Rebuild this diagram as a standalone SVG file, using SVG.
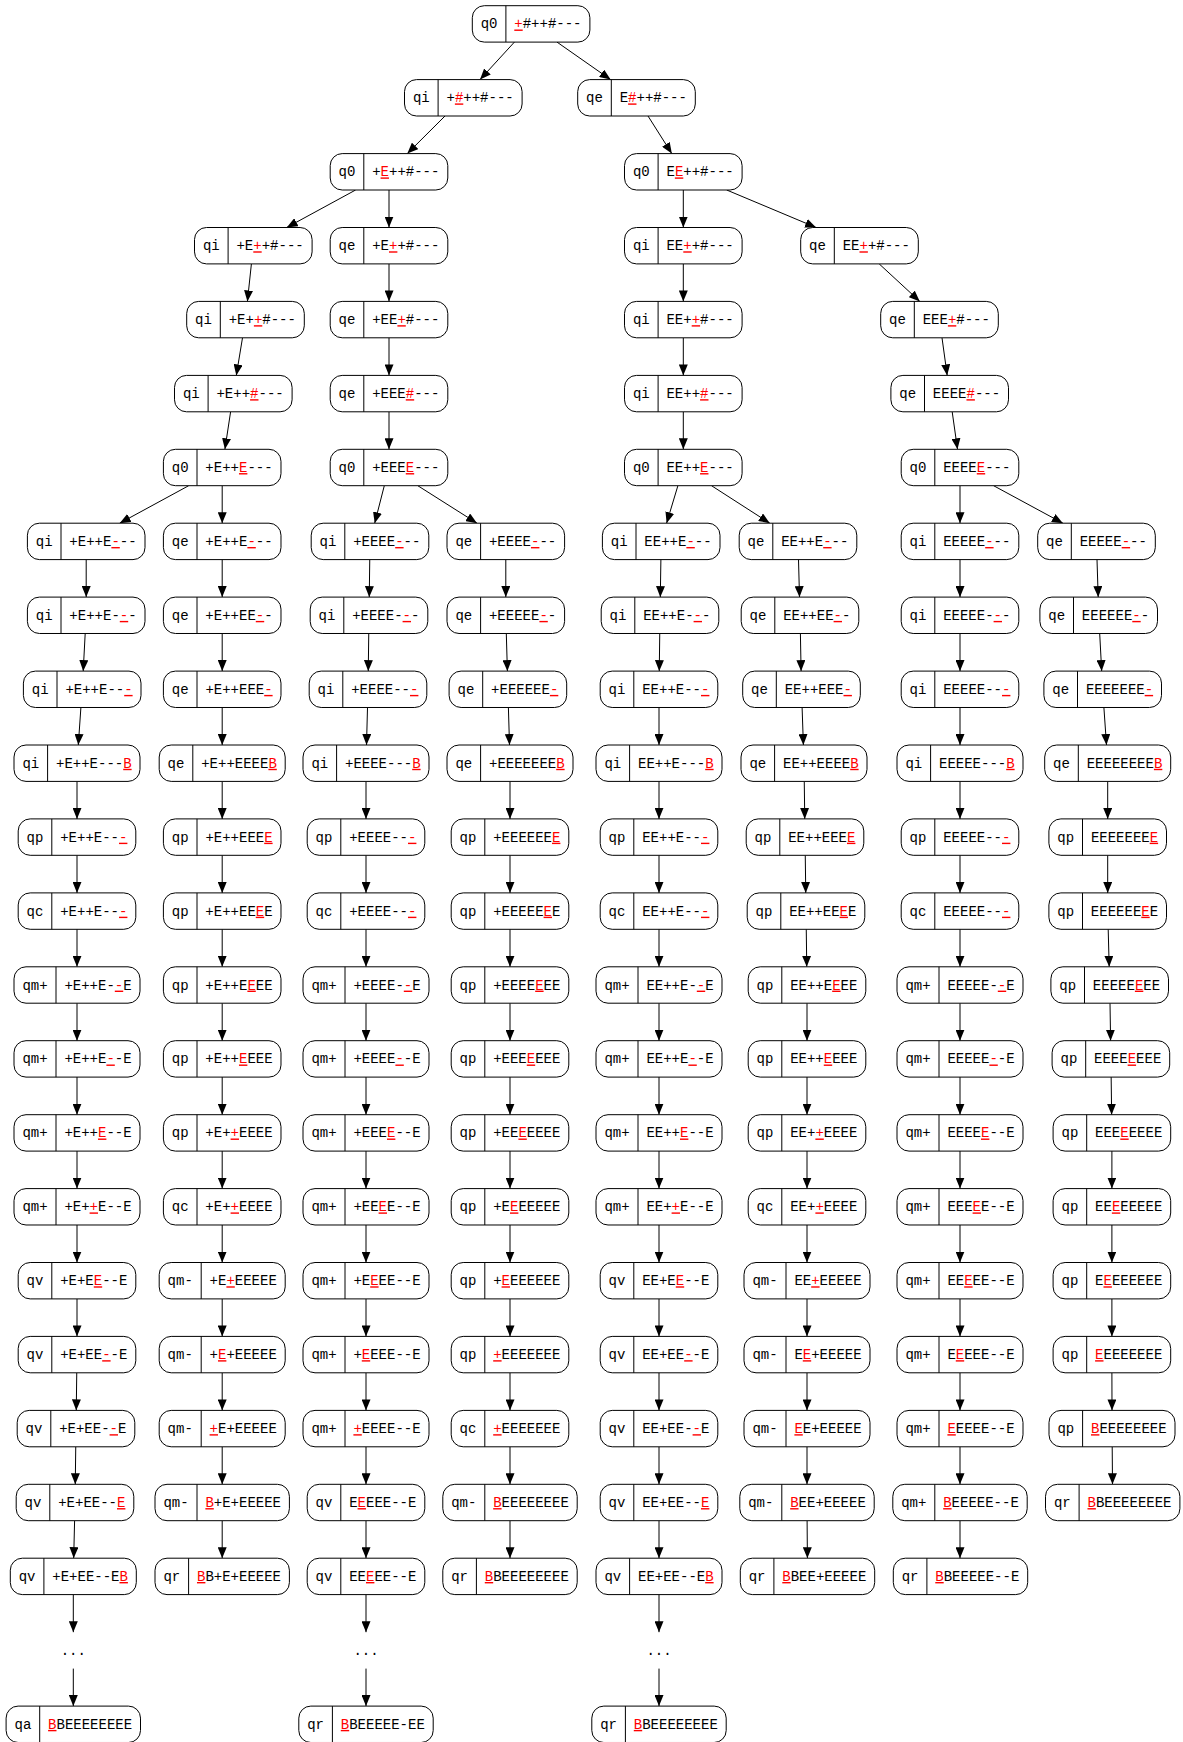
<svg xmlns="http://www.w3.org/2000/svg" width="1183" height="1742" viewBox="0 0 1183 1742">
<style>
.f{fill:#fff;stroke:#000;stroke-width:1}
text{font-family:"Liberation Mono","DejaVu Sans Mono",monospace;font-size:14px;fill:#000;text-anchor:middle}
.h{fill:#f00;text-decoration:underline}
.e{fill:none;stroke:#000;stroke-width:1;marker-end:url(#ah)}
</style>
<defs>
<marker id="ah" viewBox="0 0 11 9" refX="11" refY="4.5" markerWidth="11" markerHeight="9" markerUnits="userSpaceOnUse" orient="auto"><path d="M0,0L11,4.5L0,9z" fill="#000"/></marker>
<g id="fA"><rect class="f" width="117.6" height="36.4" rx="12"/><line class="f" x1="33.6" y1="0" x2="33.6" y2="36.4"/></g>
<g id="fB"><rect class="f" width="126" height="36.4" rx="12"/><line class="f" x1="33.6" y1="0" x2="33.6" y2="36.4"/></g>
<g id="fC"><rect class="f" width="134.4" height="36.4" rx="12"/><line class="f" x1="33.6" y1="0" x2="33.6" y2="36.4"/></g>
<g id="fD"><rect class="f" width="126" height="36.4" rx="12"/><line class="f" x1="42" y1="0" x2="42" y2="36.4"/></g>
<g id="fE"><rect class="f" width="134.4" height="36.4" rx="12"/><line class="f" x1="42" y1="0" x2="42" y2="36.4"/></g>
</defs>
<rect width="1183" height="1742" fill="#fff"/>
<g id="edges">
<path class="e" d="M514.4,42.1L480,79.6"/>
<path class="e" d="M557,42.1L610.6,79.6"/>
<path class="e" d="M445,116L407.3,153.6"/>
<path class="e" d="M648,116L671.8,153.6"/>
<path class="e" d="M355.6,190L286.7,227.5"/>
<path class="e" d="M389,190L389,227.5"/>
<path class="e" d="M683.3,190L683.3,227.5"/>
<path class="e" d="M726.7,190L816.1,227.5"/>
<path class="e" d="M251.4,263.9L247.4,301.4"/>
<path class="e" d="M389,263.9L389,301.4"/>
<path class="e" d="M683.3,263.9L683.3,301.4"/>
<path class="e" d="M879.2,263.9L919.8,301.4"/>
<path class="e" d="M242.5,337.8L236.3,375.4"/>
<path class="e" d="M389,337.8L389,375.4"/>
<path class="e" d="M683.3,337.8L683.3,375.4"/>
<path class="e" d="M942,337.8L947.2,375.4"/>
<path class="e" d="M230.6,411.8L224.9,449.3"/>
<path class="e" d="M389,411.8L389,449.3"/>
<path class="e" d="M683.3,411.8L683.3,449.3"/>
<path class="e" d="M952.2,411.8L957.5,449.3"/>
<path class="e" d="M188.7,485.7L119.7,523.2"/>
<path class="e" d="M222.2,485.7L222.2,523.2"/>
<path class="e" d="M384.3,485.7L374.7,523.2"/>
<path class="e" d="M417.8,485.7L477,523.2"/>
<path class="e" d="M677.9,485.7L666.6,523.2"/>
<path class="e" d="M711.5,485.7L769.8,523.2"/>
<path class="e" d="M960,485.7L960,523.2"/>
<path class="e" d="M993.6,485.7L1062.9,523.2"/>
<!-- col1 -->
<path class="e" d="M86.2,559.6L86.2,597.1"/>
<path class="e" d="M85.2,633.5L83.2,671.1"/>
<path class="e" d="M80.9,707.5L78.3,745"/>
<path class="e" d="M77,781.4L77,818.9"/>
<path class="e" d="M77,855.3L77,892.9"/>
<path class="e" d="M77,929.3L77,966.8"/>
<path class="e" d="M77,1003.2L77,1040.7"/>
<path class="e" d="M77,1077.1L77,1114.7"/>
<path class="e" d="M77,1151.1L77,1188.6"/>
<path class="e" d="M77,1225L77,1262.5"/>
<path class="e" d="M77,1298.9L77,1336.4"/>
<path class="e" d="M76.75,1372.8L76.25,1410.4"/>
<path class="e" d="M75.75,1446.8L75.25,1484.3"/>
<path class="e" d="M74.6,1520.7L73.7,1558.2"/>
<path class="e" d="M73.3,1594.6L73.3,1632.2"/>
<path class="e" d="M73.3,1668.6L73.3,1706.1"/>
<!-- col2 -->
<path class="e" d="M222.2,559.6L222.2,597.1"/>
<path class="e" d="M222.2,633.5L222.2,671.1"/>
<path class="e" d="M222.2,707.5L222.2,745"/>
<path class="e" d="M222.2,781.4L222.2,818.9"/>
<path class="e" d="M222.2,855.3L222.2,892.9"/>
<path class="e" d="M222.2,929.3L222.2,966.8"/>
<path class="e" d="M222.2,1003.2L222.2,1040.7"/>
<path class="e" d="M222.2,1077.1L222.2,1114.7"/>
<path class="e" d="M222.2,1151.1L222.2,1188.6"/>
<path class="e" d="M222.2,1225L222.2,1262.5"/>
<path class="e" d="M222.2,1298.9L222.2,1336.4"/>
<path class="e" d="M222.2,1372.8L222.2,1410.4"/>
<path class="e" d="M222.2,1446.8L222.2,1484.3"/>
<path class="e" d="M222.2,1520.7L222.2,1558.2"/>
<!-- col3 -->
<path class="e" d="M369.75,559.6L369.25,597.1"/>
<path class="e" d="M368.75,633.5L368.25,671.1"/>
<path class="e" d="M367.5,707.5L366.5,745"/>
<path class="e" d="M366,781.4L366,818.9"/>
<path class="e" d="M366,855.3L366,892.9"/>
<path class="e" d="M366,929.3L366,966.8"/>
<path class="e" d="M366,1003.2L366,1040.7"/>
<path class="e" d="M366,1077.1L366,1114.7"/>
<path class="e" d="M366,1151.1L366,1188.6"/>
<path class="e" d="M366,1225L366,1262.5"/>
<path class="e" d="M366,1298.9L366,1336.4"/>
<path class="e" d="M366,1372.8L366,1410.4"/>
<path class="e" d="M366,1446.8L366,1484.3"/>
<path class="e" d="M366,1520.7L366,1558.2"/>
<path class="e" d="M366,1594.6L366,1632.2"/>
<path class="e" d="M366,1668.6L366,1706.1"/>
<!-- col4 -->
<path class="e" d="M505.8,559.6L505.8,597.1"/>
<path class="e" d="M506.3,633.5L507.4,671.1"/>
<path class="e" d="M508.4,707.5L509.5,745"/>
<path class="e" d="M510,781.4L510,818.9"/>
<path class="e" d="M510,855.3L510,892.9"/>
<path class="e" d="M510,929.3L510,966.8"/>
<path class="e" d="M510,1003.2L510,1040.7"/>
<path class="e" d="M510,1077.1L510,1114.7"/>
<path class="e" d="M510,1151.1L510,1188.6"/>
<path class="e" d="M510,1225L510,1262.5"/>
<path class="e" d="M510,1298.9L510,1336.4"/>
<path class="e" d="M510,1372.8L510,1410.4"/>
<path class="e" d="M510,1446.8L510,1484.3"/>
<path class="e" d="M510,1520.7L510,1558.2"/>
<!-- col5 -->
<path class="e" d="M660.9,559.6L660.3,597.1"/>
<path class="e" d="M659.75,633.5L659.25,671.1"/>
<path class="e" d="M659,707.5L659,745"/>
<path class="e" d="M659,781.4L659,818.9"/>
<path class="e" d="M659,855.3L659,892.9"/>
<path class="e" d="M659,929.3L659,966.8"/>
<path class="e" d="M659,1003.2L659,1040.7"/>
<path class="e" d="M659,1077.1L659,1114.7"/>
<path class="e" d="M659,1151.1L659,1188.6"/>
<path class="e" d="M659,1225L659,1262.5"/>
<path class="e" d="M659,1298.9L659,1336.4"/>
<path class="e" d="M659,1372.8L659,1410.4"/>
<path class="e" d="M659,1446.8L659,1484.3"/>
<path class="e" d="M659,1520.7L659,1558.2"/>
<path class="e" d="M659,1594.6L659,1632.2"/>
<path class="e" d="M659,1668.6L659,1706.1"/>
<!-- col6 -->
<path class="e" d="M798.5,559.6L799.5,597.1"/>
<path class="e" d="M800.4,633.5L801.1,671.1"/>
<path class="e" d="M802.1,707.5L803.4,745"/>
<path class="e" d="M804.25,781.4L804.75,818.9"/>
<path class="e" d="M805.25,855.3L805.75,892.9"/>
<path class="e" d="M806.25,929.3L806.75,966.8"/>
<path class="e" d="M807,1003.2L807,1040.7"/>
<path class="e" d="M807,1077.1L807,1114.7"/>
<path class="e" d="M807,1151.1L807,1188.6"/>
<path class="e" d="M807,1225L807,1262.5"/>
<path class="e" d="M807,1298.9L807,1336.4"/>
<path class="e" d="M807,1372.8L807,1410.4"/>
<path class="e" d="M807,1446.8L807,1484.3"/>
<path class="e" d="M807.1,1520.7L807.4,1558.2"/>
<!-- col7 -->
<path class="e" d="M960,559.6L960,597.1"/>
<path class="e" d="M960,633.5L960,671.1"/>
<path class="e" d="M960,707.5L960,745"/>
<path class="e" d="M960,781.4L960,818.9"/>
<path class="e" d="M960,855.3L960,892.9"/>
<path class="e" d="M960,929.3L960,966.8"/>
<path class="e" d="M960,1003.2L960,1040.7"/>
<path class="e" d="M960,1077.1L960,1114.7"/>
<path class="e" d="M960,1151.1L960,1188.6"/>
<path class="e" d="M960,1225L960,1262.5"/>
<path class="e" d="M960,1298.9L960,1336.4"/>
<path class="e" d="M960,1372.8L960,1410.4"/>
<path class="e" d="M960,1446.8L960,1484.3"/>
<path class="e" d="M960,1520.7L960,1558.2"/>
<!-- col8 -->
<path class="e" d="M1097,559.6L1098.2,597.1"/>
<path class="e" d="M1099.7,633.5L1101.7,671.1"/>
<path class="e" d="M1103.9,707.5L1106.5,745"/>
<path class="e" d="M1107.7,781.4L1107.7,818.9"/>
<path class="e" d="M1107.7,855.3L1107.7,892.9"/>
<path class="e" d="M1108.2,929.3L1109.2,966.8"/>
<path class="e" d="M1110,1003.2L1110.6,1040.7"/>
<path class="e" d="M1111.15,1077.1L1111.65,1114.7"/>
<path class="e" d="M1111.9,1151.1L1111.9,1188.6"/>
<path class="e" d="M1111.9,1225L1111.9,1262.5"/>
<path class="e" d="M1111.9,1298.9L1111.9,1336.4"/>
<path class="e" d="M1111.9,1372.8L1112,1410.4"/>
<path class="e" d="M1112.2,1446.8L1112.5,1484.3"/>
</g>
<g id="nodes">
<!-- trunk -->
<g id="n0" transform="translate(472.3,5.7)"><use href="#fA"/><text x="16.8" y="22.8">q0</text><text x="75.6" y="22.8"><tspan class="h">+</tspan>#++#---</text></g>
<g id="a1" transform="translate(404.5,79.6)"><use href="#fA"/><text x="16.8" y="22.8">qi</text><text x="75.6" y="22.8">+<tspan class="h">#</tspan>++#---</text></g>
<g id="b1" transform="translate(577.7,79.6)"><use href="#fA"/><text x="16.8" y="22.8">qe</text><text x="75.6" y="22.8">E<tspan class="h">#</tspan>++#---</text></g>
<g id="a2" transform="translate(330.2,153.6)"><use href="#fA"/><text x="16.8" y="22.8">q0</text><text x="75.6" y="22.8">+<tspan class="h">E</tspan>++#---</text></g>
<g id="b2" transform="translate(624.5,153.6)"><use href="#fA"/><text x="16.8" y="22.8">q0</text><text x="75.6" y="22.8">E<tspan class="h">E</tspan>++#---</text></g>
<g id="c3" transform="translate(194.5,227.5)"><use href="#fA"/><text x="16.8" y="22.8">qi</text><text x="75.6" y="22.8">+E<tspan class="h">+</tspan>+#---</text></g>
<g id="d3" transform="translate(330.2,227.5)"><use href="#fA"/><text x="16.8" y="22.8">qe</text><text x="75.6" y="22.8">+E<tspan class="h">+</tspan>+#---</text></g>
<g id="e3" transform="translate(624.5,227.5)"><use href="#fA"/><text x="16.8" y="22.8">qi</text><text x="75.6" y="22.8">EE<tspan class="h">+</tspan>+#---</text></g>
<g id="f3" transform="translate(800.7,227.5)"><use href="#fA"/><text x="16.8" y="22.8">qe</text><text x="75.6" y="22.8">EE<tspan class="h">+</tspan>+#---</text></g>
<g id="c4" transform="translate(186.7,301.4)"><use href="#fA"/><text x="16.8" y="22.8">qi</text><text x="75.6" y="22.8">+E+<tspan class="h">+</tspan>#---</text></g>
<g id="d4" transform="translate(330.2,301.4)"><use href="#fA"/><text x="16.8" y="22.8">qe</text><text x="75.6" y="22.8">+EE<tspan class="h">+</tspan>#---</text></g>
<g id="e4" transform="translate(624.5,301.4)"><use href="#fA"/><text x="16.8" y="22.8">qi</text><text x="75.6" y="22.8">EE+<tspan class="h">+</tspan>#---</text></g>
<g id="f4" transform="translate(880.7,301.4)"><use href="#fA"/><text x="16.8" y="22.8">qe</text><text x="75.6" y="22.8">EEE<tspan class="h">+</tspan>#---</text></g>
<g id="c5" transform="translate(174.5,375.4)"><use href="#fA"/><text x="16.8" y="22.8">qi</text><text x="75.6" y="22.8">+E++<tspan class="h">#</tspan>---</text></g>
<g id="d5" transform="translate(330.2,375.4)"><use href="#fA"/><text x="16.8" y="22.8">qe</text><text x="75.6" y="22.8">+EEE<tspan class="h">#</tspan>---</text></g>
<g id="e5" transform="translate(624.5,375.4)"><use href="#fA"/><text x="16.8" y="22.8">qi</text><text x="75.6" y="22.8">EE++<tspan class="h">#</tspan>---</text></g>
<g id="f5" transform="translate(890.9,375.4)"><use href="#fA"/><text x="16.8" y="22.8">qe</text><text x="75.6" y="22.8">EEEE<tspan class="h">#</tspan>---</text></g>
<g id="c6" transform="translate(163.4,449.3)"><use href="#fA"/><text x="16.8" y="22.8">q0</text><text x="75.6" y="22.8">+E++<tspan class="h">E</tspan>---</text></g>
<g id="d6" transform="translate(330.2,449.3)"><use href="#fA"/><text x="16.8" y="22.8">q0</text><text x="75.6" y="22.8">+EEE<tspan class="h">E</tspan>---</text></g>
<g id="e6" transform="translate(624.5,449.3)"><use href="#fA"/><text x="16.8" y="22.8">q0</text><text x="75.6" y="22.8">EE++<tspan class="h">E</tspan>---</text></g>
<g id="f6" transform="translate(901.2,449.3)"><use href="#fA"/><text x="16.8" y="22.8">q0</text><text x="75.6" y="22.8">EEEE<tspan class="h">E</tspan>---</text></g>
<!-- col1 -->
<g id="k1_7" transform="translate(27.4,523.2)"><use href="#fA"/><text x="16.8" y="22.8">qi</text><text x="75.6" y="22.8">+E++E<tspan class="h">-</tspan>--</text></g>
<g id="k1_8" transform="translate(27.4,597.1)"><use href="#fA"/><text x="16.8" y="22.8">qi</text><text x="75.6" y="22.8">+E++E-<tspan class="h">-</tspan>-</text></g>
<g id="k1_9" transform="translate(23.4,671.1)"><use href="#fA"/><text x="16.8" y="22.8">qi</text><text x="75.6" y="22.8">+E++E--<tspan class="h">-</tspan></text></g>
<g id="k1_10" transform="translate(14,745)"><use href="#fB"/><text x="16.8" y="22.8">qi</text><text x="79.8" y="22.8">+E++E---<tspan class="h">B</tspan></text></g>
<g id="k1_11" transform="translate(18.2,818.9)"><use href="#fA"/><text x="16.8" y="22.8">qp</text><text x="75.6" y="22.8">+E++E--<tspan class="h">-</tspan></text></g>
<g id="k1_12" transform="translate(18.2,892.9)"><use href="#fA"/><text x="16.8" y="22.8">qc</text><text x="75.6" y="22.8">+E++E--<tspan class="h">-</tspan></text></g>
<g id="k1_13" transform="translate(14,966.8)"><use href="#fD"/><text x="21" y="22.8">qm+</text><text x="84" y="22.8">+E++E-<tspan class="h">-</tspan>E</text></g>
<g id="k1_14" transform="translate(14,1040.7)"><use href="#fD"/><text x="21" y="22.8">qm+</text><text x="84" y="22.8">+E++E<tspan class="h">-</tspan>-E</text></g>
<g id="k1_15" transform="translate(14,1114.7)"><use href="#fD"/><text x="21" y="22.8">qm+</text><text x="84" y="22.8">+E++<tspan class="h">E</tspan>--E</text></g>
<g id="k1_16" transform="translate(14,1188.6)"><use href="#fD"/><text x="21" y="22.8">qm+</text><text x="84" y="22.8">+E+<tspan class="h">+</tspan>E--E</text></g>
<g id="k1_17" transform="translate(18.2,1262.5)"><use href="#fA"/><text x="16.8" y="22.8">qv</text><text x="75.6" y="22.8">+E+E<tspan class="h">E</tspan>--E</text></g>
<g id="k1_18" transform="translate(18.2,1336.4)"><use href="#fA"/><text x="16.8" y="22.8">qv</text><text x="75.6" y="22.8">+E+EE<tspan class="h">-</tspan>-E</text></g>
<g id="k1_19" transform="translate(17.2,1410.4)"><use href="#fA"/><text x="16.8" y="22.8">qv</text><text x="75.6" y="22.8">+E+EE-<tspan class="h">-</tspan>E</text></g>
<g id="k1_20" transform="translate(16.2,1484.3)"><use href="#fA"/><text x="16.8" y="22.8">qv</text><text x="75.6" y="22.8">+E+EE--<tspan class="h">E</tspan></text></g>
<g id="k1_21" transform="translate(10.3,1558.2)"><use href="#fB"/><text x="16.8" y="22.8">qv</text><text x="79.8" y="22.8">+E+EE--E<tspan class="h">B</tspan></text></g>
<g id="k1_22"><text x="73.3" y="1654.9">...</text></g>
<g id="k1_23" transform="translate(6.1,1706.1)"><use href="#fC"/><text x="16.8" y="22.8">qa</text><text x="84" y="22.8"><tspan class="h">B</tspan>BEEEEEEEE</text></g>
<!-- col2 -->
<g id="k2_7" transform="translate(163.4,523.2)"><use href="#fA"/><text x="16.8" y="22.8">qe</text><text x="75.6" y="22.8">+E++E<tspan class="h">-</tspan>--</text></g>
<g id="k2_8" transform="translate(163.4,597.1)"><use href="#fA"/><text x="16.8" y="22.8">qe</text><text x="75.6" y="22.8">+E++EE<tspan class="h">-</tspan>-</text></g>
<g id="k2_9" transform="translate(163.4,671.1)"><use href="#fA"/><text x="16.8" y="22.8">qe</text><text x="75.6" y="22.8">+E++EEE<tspan class="h">-</tspan></text></g>
<g id="k2_10" transform="translate(159.2,745)"><use href="#fB"/><text x="16.8" y="22.8">qe</text><text x="79.8" y="22.8">+E++EEEE<tspan class="h">B</tspan></text></g>
<g id="k2_11" transform="translate(163.4,818.9)"><use href="#fA"/><text x="16.8" y="22.8">qp</text><text x="75.6" y="22.8">+E++EEE<tspan class="h">E</tspan></text></g>
<g id="k2_12" transform="translate(163.4,892.9)"><use href="#fA"/><text x="16.8" y="22.8">qp</text><text x="75.6" y="22.8">+E++EE<tspan class="h">E</tspan>E</text></g>
<g id="k2_13" transform="translate(163.4,966.8)"><use href="#fA"/><text x="16.8" y="22.8">qp</text><text x="75.6" y="22.8">+E++E<tspan class="h">E</tspan>EE</text></g>
<g id="k2_14" transform="translate(163.4,1040.7)"><use href="#fA"/><text x="16.8" y="22.8">qp</text><text x="75.6" y="22.8">+E++<tspan class="h">E</tspan>EEE</text></g>
<g id="k2_15" transform="translate(163.4,1114.7)"><use href="#fA"/><text x="16.8" y="22.8">qp</text><text x="75.6" y="22.8">+E+<tspan class="h">+</tspan>EEEE</text></g>
<g id="k2_16" transform="translate(163.4,1188.6)"><use href="#fA"/><text x="16.8" y="22.8">qc</text><text x="75.6" y="22.8">+E+<tspan class="h">+</tspan>EEEE</text></g>
<g id="k2_17" transform="translate(159.2,1262.5)"><use href="#fD"/><text x="21" y="22.8">qm-</text><text x="84" y="22.8">+E<tspan class="h">+</tspan>EEEEE</text></g>
<g id="k2_18" transform="translate(159.2,1336.4)"><use href="#fD"/><text x="21" y="22.8">qm-</text><text x="84" y="22.8">+<tspan class="h">E</tspan>+EEEEE</text></g>
<g id="k2_19" transform="translate(159.2,1410.4)"><use href="#fD"/><text x="21" y="22.8">qm-</text><text x="84" y="22.8"><tspan class="h">+</tspan>E+EEEEE</text></g>
<g id="k2_20" transform="translate(155,1484.3)"><use href="#fE"/><text x="21" y="22.8">qm-</text><text x="88.2" y="22.8"><tspan class="h">B</tspan>+E+EEEEE</text></g>
<g id="k2_21" transform="translate(155,1558.2)"><use href="#fC"/><text x="16.8" y="22.8">qr</text><text x="84" y="22.8"><tspan class="h">B</tspan>B+E+EEEEE</text></g>
<!-- col3 -->
<g id="k3_7" transform="translate(311.2,523.2)"><use href="#fA"/><text x="16.8" y="22.8">qi</text><text x="75.6" y="22.8">+EEEE<tspan class="h">-</tspan>--</text></g>
<g id="k3_8" transform="translate(310.2,597.1)"><use href="#fA"/><text x="16.8" y="22.8">qi</text><text x="75.6" y="22.8">+EEEE-<tspan class="h">-</tspan>-</text></g>
<g id="k3_9" transform="translate(309.2,671.1)"><use href="#fA"/><text x="16.8" y="22.8">qi</text><text x="75.6" y="22.8">+EEEE--<tspan class="h">-</tspan></text></g>
<g id="k3_10" transform="translate(303,745)"><use href="#fB"/><text x="16.8" y="22.8">qi</text><text x="79.8" y="22.8">+EEEE---<tspan class="h">B</tspan></text></g>
<g id="k3_11" transform="translate(307.2,818.9)"><use href="#fA"/><text x="16.8" y="22.8">qp</text><text x="75.6" y="22.8">+EEEE--<tspan class="h">-</tspan></text></g>
<g id="k3_12" transform="translate(307.2,892.9)"><use href="#fA"/><text x="16.8" y="22.8">qc</text><text x="75.6" y="22.8">+EEEE--<tspan class="h">-</tspan></text></g>
<g id="k3_13" transform="translate(303,966.8)"><use href="#fD"/><text x="21" y="22.8">qm+</text><text x="84" y="22.8">+EEEE-<tspan class="h">-</tspan>E</text></g>
<g id="k3_14" transform="translate(303,1040.7)"><use href="#fD"/><text x="21" y="22.8">qm+</text><text x="84" y="22.8">+EEEE<tspan class="h">-</tspan>-E</text></g>
<g id="k3_15" transform="translate(303,1114.7)"><use href="#fD"/><text x="21" y="22.8">qm+</text><text x="84" y="22.8">+EEE<tspan class="h">E</tspan>--E</text></g>
<g id="k3_16" transform="translate(303,1188.6)"><use href="#fD"/><text x="21" y="22.8">qm+</text><text x="84" y="22.8">+EE<tspan class="h">E</tspan>E--E</text></g>
<g id="k3_17" transform="translate(303,1262.5)"><use href="#fD"/><text x="21" y="22.8">qm+</text><text x="84" y="22.8">+E<tspan class="h">E</tspan>EE--E</text></g>
<g id="k3_18" transform="translate(303,1336.4)"><use href="#fD"/><text x="21" y="22.8">qm+</text><text x="84" y="22.8">+<tspan class="h">E</tspan>EEE--E</text></g>
<g id="k3_19" transform="translate(303,1410.4)"><use href="#fD"/><text x="21" y="22.8">qm+</text><text x="84" y="22.8"><tspan class="h">+</tspan>EEEE--E</text></g>
<g id="k3_20" transform="translate(307.2,1484.3)"><use href="#fA"/><text x="16.8" y="22.8">qv</text><text x="75.6" y="22.8">E<tspan class="h">E</tspan>EEE--E</text></g>
<g id="k3_21" transform="translate(307.2,1558.2)"><use href="#fA"/><text x="16.8" y="22.8">qv</text><text x="75.6" y="22.8">EE<tspan class="h">E</tspan>EE--E</text></g>
<g id="k3_22"><text x="366" y="1654.9">...</text></g>
<g id="k3_23" transform="translate(298.8,1706.1)"><use href="#fC"/><text x="16.8" y="22.8">qr</text><text x="84" y="22.8"><tspan class="h">B</tspan>BEEEEE-EE</text></g>
<!-- col4 -->
<g id="k4_7" transform="translate(447,523.2)"><use href="#fA"/><text x="16.8" y="22.8">qe</text><text x="75.6" y="22.8">+EEEE<tspan class="h">-</tspan>--</text></g>
<g id="k4_8" transform="translate(447,597.1)"><use href="#fA"/><text x="16.8" y="22.8">qe</text><text x="75.6" y="22.8">+EEEEE<tspan class="h">-</tspan>-</text></g>
<g id="k4_9" transform="translate(449.1,671.1)"><use href="#fA"/><text x="16.8" y="22.8">qe</text><text x="75.6" y="22.8">+EEEEEE<tspan class="h">-</tspan></text></g>
<g id="k4_10" transform="translate(447,745)"><use href="#fB"/><text x="16.8" y="22.8">qe</text><text x="79.8" y="22.8">+EEEEEEE<tspan class="h">B</tspan></text></g>
<g id="k4_11" transform="translate(451.2,818.9)"><use href="#fA"/><text x="16.8" y="22.8">qp</text><text x="75.6" y="22.8">+EEEEEE<tspan class="h">E</tspan></text></g>
<g id="k4_12" transform="translate(451.2,892.9)"><use href="#fA"/><text x="16.8" y="22.8">qp</text><text x="75.6" y="22.8">+EEEEE<tspan class="h">E</tspan>E</text></g>
<g id="k4_13" transform="translate(451.2,966.8)"><use href="#fA"/><text x="16.8" y="22.8">qp</text><text x="75.6" y="22.8">+EEEE<tspan class="h">E</tspan>EE</text></g>
<g id="k4_14" transform="translate(451.2,1040.7)"><use href="#fA"/><text x="16.8" y="22.8">qp</text><text x="75.6" y="22.8">+EEE<tspan class="h">E</tspan>EEE</text></g>
<g id="k4_15" transform="translate(451.2,1114.7)"><use href="#fA"/><text x="16.8" y="22.8">qp</text><text x="75.6" y="22.8">+EE<tspan class="h">E</tspan>EEEE</text></g>
<g id="k4_16" transform="translate(451.2,1188.6)"><use href="#fA"/><text x="16.8" y="22.8">qp</text><text x="75.6" y="22.8">+E<tspan class="h">E</tspan>EEEEE</text></g>
<g id="k4_17" transform="translate(451.2,1262.5)"><use href="#fA"/><text x="16.8" y="22.8">qp</text><text x="75.6" y="22.8">+<tspan class="h">E</tspan>EEEEEE</text></g>
<g id="k4_18" transform="translate(451.2,1336.4)"><use href="#fA"/><text x="16.8" y="22.8">qp</text><text x="75.6" y="22.8"><tspan class="h">+</tspan>EEEEEEE</text></g>
<g id="k4_19" transform="translate(451.2,1410.4)"><use href="#fA"/><text x="16.8" y="22.8">qc</text><text x="75.6" y="22.8"><tspan class="h">+</tspan>EEEEEEE</text></g>
<g id="k4_20" transform="translate(442.8,1484.3)"><use href="#fE"/><text x="21" y="22.8">qm-</text><text x="88.2" y="22.8"><tspan class="h">B</tspan>EEEEEEEE</text></g>
<g id="k4_21" transform="translate(442.8,1558.2)"><use href="#fC"/><text x="16.8" y="22.8">qr</text><text x="84" y="22.8"><tspan class="h">B</tspan>BEEEEEEEE</text></g>
<!-- col5 -->
<g id="k5_7" transform="translate(602.4,523.2)"><use href="#fA"/><text x="16.8" y="22.8">qi</text><text x="75.6" y="22.8">EE++E<tspan class="h">-</tspan>--</text></g>
<g id="k5_8" transform="translate(601.2,597.1)"><use href="#fA"/><text x="16.8" y="22.8">qi</text><text x="75.6" y="22.8">EE++E-<tspan class="h">-</tspan>-</text></g>
<g id="k5_9" transform="translate(600.2,671.1)"><use href="#fA"/><text x="16.8" y="22.8">qi</text><text x="75.6" y="22.8">EE++E--<tspan class="h">-</tspan></text></g>
<g id="k5_10" transform="translate(596,745)"><use href="#fB"/><text x="16.8" y="22.8">qi</text><text x="79.8" y="22.8">EE++E---<tspan class="h">B</tspan></text></g>
<g id="k5_11" transform="translate(600.2,818.9)"><use href="#fA"/><text x="16.8" y="22.8">qp</text><text x="75.6" y="22.8">EE++E--<tspan class="h">-</tspan></text></g>
<g id="k5_12" transform="translate(600.2,892.9)"><use href="#fA"/><text x="16.8" y="22.8">qc</text><text x="75.6" y="22.8">EE++E--<tspan class="h">-</tspan></text></g>
<g id="k5_13" transform="translate(596,966.8)"><use href="#fD"/><text x="21" y="22.8">qm+</text><text x="84" y="22.8">EE++E-<tspan class="h">-</tspan>E</text></g>
<g id="k5_14" transform="translate(596,1040.7)"><use href="#fD"/><text x="21" y="22.8">qm+</text><text x="84" y="22.8">EE++E<tspan class="h">-</tspan>-E</text></g>
<g id="k5_15" transform="translate(596,1114.7)"><use href="#fD"/><text x="21" y="22.8">qm+</text><text x="84" y="22.8">EE++<tspan class="h">E</tspan>--E</text></g>
<g id="k5_16" transform="translate(596,1188.6)"><use href="#fD"/><text x="21" y="22.8">qm+</text><text x="84" y="22.8">EE+<tspan class="h">+</tspan>E--E</text></g>
<g id="k5_17" transform="translate(600.2,1262.5)"><use href="#fA"/><text x="16.8" y="22.8">qv</text><text x="75.6" y="22.8">EE+E<tspan class="h">E</tspan>--E</text></g>
<g id="k5_18" transform="translate(600.2,1336.4)"><use href="#fA"/><text x="16.8" y="22.8">qv</text><text x="75.6" y="22.8">EE+EE<tspan class="h">-</tspan>-E</text></g>
<g id="k5_19" transform="translate(600.2,1410.4)"><use href="#fA"/><text x="16.8" y="22.8">qv</text><text x="75.6" y="22.8">EE+EE-<tspan class="h">-</tspan>E</text></g>
<g id="k5_20" transform="translate(600.2,1484.3)"><use href="#fA"/><text x="16.8" y="22.8">qv</text><text x="75.6" y="22.8">EE+EE--<tspan class="h">E</tspan></text></g>
<g id="k5_21" transform="translate(596,1558.2)"><use href="#fB"/><text x="16.8" y="22.8">qv</text><text x="79.8" y="22.8">EE+EE--E<tspan class="h">B</tspan></text></g>
<g id="k5_22"><text x="659" y="1654.9">...</text></g>
<g id="k5_23" transform="translate(591.8,1706.1)"><use href="#fC"/><text x="16.8" y="22.8">qr</text><text x="84" y="22.8"><tspan class="h">B</tspan>BEEEEEEEE</text></g>
<!-- col6 -->
<g id="k6_7" transform="translate(739.2,523.2)"><use href="#fA"/><text x="16.8" y="22.8">qe</text><text x="75.6" y="22.8">EE++E<tspan class="h">-</tspan>--</text></g>
<g id="k6_8" transform="translate(741.2,597.1)"><use href="#fA"/><text x="16.8" y="22.8">qe</text><text x="75.6" y="22.8">EE++EE<tspan class="h">-</tspan>-</text></g>
<g id="k6_9" transform="translate(742.7,671.1)"><use href="#fA"/><text x="16.8" y="22.8">qe</text><text x="75.6" y="22.8">EE++EEE<tspan class="h">-</tspan></text></g>
<g id="k6_10" transform="translate(741,745)"><use href="#fB"/><text x="16.8" y="22.8">qe</text><text x="79.8" y="22.8">EE++EEEE<tspan class="h">B</tspan></text></g>
<g id="k6_11" transform="translate(746.2,818.9)"><use href="#fA"/><text x="16.8" y="22.8">qp</text><text x="75.6" y="22.8">EE++EEE<tspan class="h">E</tspan></text></g>
<g id="k6_12" transform="translate(747.2,892.9)"><use href="#fA"/><text x="16.8" y="22.8">qp</text><text x="75.6" y="22.8">EE++EE<tspan class="h">E</tspan>E</text></g>
<g id="k6_13" transform="translate(748.2,966.8)"><use href="#fA"/><text x="16.8" y="22.8">qp</text><text x="75.6" y="22.8">EE++E<tspan class="h">E</tspan>EE</text></g>
<g id="k6_14" transform="translate(748.2,1040.7)"><use href="#fA"/><text x="16.8" y="22.8">qp</text><text x="75.6" y="22.8">EE++<tspan class="h">E</tspan>EEE</text></g>
<g id="k6_15" transform="translate(748.2,1114.7)"><use href="#fA"/><text x="16.8" y="22.8">qp</text><text x="75.6" y="22.8">EE+<tspan class="h">+</tspan>EEEE</text></g>
<g id="k6_16" transform="translate(748.2,1188.6)"><use href="#fA"/><text x="16.8" y="22.8">qc</text><text x="75.6" y="22.8">EE+<tspan class="h">+</tspan>EEEE</text></g>
<g id="k6_17" transform="translate(744,1262.5)"><use href="#fD"/><text x="21" y="22.8">qm-</text><text x="84" y="22.8">EE<tspan class="h">+</tspan>EEEEE</text></g>
<g id="k6_18" transform="translate(744,1336.4)"><use href="#fD"/><text x="21" y="22.8">qm-</text><text x="84" y="22.8">E<tspan class="h">E</tspan>+EEEEE</text></g>
<g id="k6_19" transform="translate(744,1410.4)"><use href="#fD"/><text x="21" y="22.8">qm-</text><text x="84" y="22.8"><tspan class="h">E</tspan>E+EEEEE</text></g>
<g id="k6_20" transform="translate(739.8,1484.3)"><use href="#fE"/><text x="21" y="22.8">qm-</text><text x="88.2" y="22.8"><tspan class="h">B</tspan>EE+EEEEE</text></g>
<g id="k6_21" transform="translate(740.3,1558.2)"><use href="#fC"/><text x="16.8" y="22.8">qr</text><text x="84" y="22.8"><tspan class="h">B</tspan>BEE+EEEEE</text></g>
<!-- col7 -->
<g id="k7_7" transform="translate(901.2,523.2)"><use href="#fA"/><text x="16.8" y="22.8">qi</text><text x="75.6" y="22.8">EEEEE<tspan class="h">-</tspan>--</text></g>
<g id="k7_8" transform="translate(901.2,597.1)"><use href="#fA"/><text x="16.8" y="22.8">qi</text><text x="75.6" y="22.8">EEEEE-<tspan class="h">-</tspan>-</text></g>
<g id="k7_9" transform="translate(901.2,671.1)"><use href="#fA"/><text x="16.8" y="22.8">qi</text><text x="75.6" y="22.8">EEEEE--<tspan class="h">-</tspan></text></g>
<g id="k7_10" transform="translate(897,745)"><use href="#fB"/><text x="16.8" y="22.8">qi</text><text x="79.8" y="22.8">EEEEE---<tspan class="h">B</tspan></text></g>
<g id="k7_11" transform="translate(901.2,818.9)"><use href="#fA"/><text x="16.8" y="22.8">qp</text><text x="75.6" y="22.8">EEEEE--<tspan class="h">-</tspan></text></g>
<g id="k7_12" transform="translate(901.2,892.9)"><use href="#fA"/><text x="16.8" y="22.8">qc</text><text x="75.6" y="22.8">EEEEE--<tspan class="h">-</tspan></text></g>
<g id="k7_13" transform="translate(897,966.8)"><use href="#fD"/><text x="21" y="22.8">qm+</text><text x="84" y="22.8">EEEEE-<tspan class="h">-</tspan>E</text></g>
<g id="k7_14" transform="translate(897,1040.7)"><use href="#fD"/><text x="21" y="22.8">qm+</text><text x="84" y="22.8">EEEEE<tspan class="h">-</tspan>-E</text></g>
<g id="k7_15" transform="translate(897,1114.7)"><use href="#fD"/><text x="21" y="22.8">qm+</text><text x="84" y="22.8">EEEE<tspan class="h">E</tspan>--E</text></g>
<g id="k7_16" transform="translate(897,1188.6)"><use href="#fD"/><text x="21" y="22.8">qm+</text><text x="84" y="22.8">EEE<tspan class="h">E</tspan>E--E</text></g>
<g id="k7_17" transform="translate(897,1262.5)"><use href="#fD"/><text x="21" y="22.8">qm+</text><text x="84" y="22.8">EE<tspan class="h">E</tspan>EE--E</text></g>
<g id="k7_18" transform="translate(897,1336.4)"><use href="#fD"/><text x="21" y="22.8">qm+</text><text x="84" y="22.8">E<tspan class="h">E</tspan>EEE--E</text></g>
<g id="k7_19" transform="translate(897,1410.4)"><use href="#fD"/><text x="21" y="22.8">qm+</text><text x="84" y="22.8"><tspan class="h">E</tspan>EEEE--E</text></g>
<g id="k7_20" transform="translate(892.8,1484.3)"><use href="#fE"/><text x="21" y="22.8">qm+</text><text x="88.2" y="22.8"><tspan class="h">B</tspan>EEEEE--E</text></g>
<g id="k7_21" transform="translate(893.3,1558.2)"><use href="#fC"/><text x="16.8" y="22.8">qr</text><text x="84" y="22.8"><tspan class="h">B</tspan>BEEEEE--E</text></g>
<!-- col8 -->
<g id="k8_7" transform="translate(1037.7,523.2)"><use href="#fA"/><text x="16.8" y="22.8">qe</text><text x="75.6" y="22.8">EEEEE<tspan class="h">-</tspan>--</text></g>
<g id="k8_8" transform="translate(1039.9,597.1)"><use href="#fA"/><text x="16.8" y="22.8">qe</text><text x="75.6" y="22.8">EEEEEE<tspan class="h">-</tspan>-</text></g>
<g id="k8_9" transform="translate(1043.9,671.1)"><use href="#fA"/><text x="16.8" y="22.8">qe</text><text x="75.6" y="22.8">EEEEEEE<tspan class="h">-</tspan></text></g>
<g id="k8_10" transform="translate(1044.7,745)"><use href="#fB"/><text x="16.8" y="22.8">qe</text><text x="79.8" y="22.8">EEEEEEEE<tspan class="h">B</tspan></text></g>
<g id="k8_11" transform="translate(1048.9,818.9)"><use href="#fA"/><text x="16.8" y="22.8">qp</text><text x="75.6" y="22.8">EEEEEEE<tspan class="h">E</tspan></text></g>
<g id="k8_12" transform="translate(1048.9,892.9)"><use href="#fA"/><text x="16.8" y="22.8">qp</text><text x="75.6" y="22.8">EEEEEE<tspan class="h">E</tspan>E</text></g>
<g id="k8_13" transform="translate(1050.9,966.8)"><use href="#fA"/><text x="16.8" y="22.8">qp</text><text x="75.6" y="22.8">EEEEE<tspan class="h">E</tspan>EE</text></g>
<g id="k8_14" transform="translate(1052.1,1040.7)"><use href="#fA"/><text x="16.8" y="22.8">qp</text><text x="75.6" y="22.8">EEEE<tspan class="h">E</tspan>EEE</text></g>
<g id="k8_15" transform="translate(1053.1,1114.7)"><use href="#fA"/><text x="16.8" y="22.8">qp</text><text x="75.6" y="22.8">EEE<tspan class="h">E</tspan>EEEE</text></g>
<g id="k8_16" transform="translate(1053.1,1188.6)"><use href="#fA"/><text x="16.8" y="22.8">qp</text><text x="75.6" y="22.8">EE<tspan class="h">E</tspan>EEEEE</text></g>
<g id="k8_17" transform="translate(1053.1,1262.5)"><use href="#fA"/><text x="16.8" y="22.8">qp</text><text x="75.6" y="22.8">E<tspan class="h">E</tspan>EEEEEE</text></g>
<g id="k8_18" transform="translate(1053.1,1336.4)"><use href="#fA"/><text x="16.8" y="22.8">qp</text><text x="75.6" y="22.8"><tspan class="h">E</tspan>EEEEEEE</text></g>
<g id="k8_19" transform="translate(1049,1410.4)"><use href="#fB"/><text x="16.8" y="22.8">qp</text><text x="79.8" y="22.8"><tspan class="h">B</tspan>EEEEEEEE</text></g>
<g id="k8_20" transform="translate(1045.5,1484.3)"><use href="#fC"/><text x="16.8" y="22.8">qr</text><text x="84" y="22.8"><tspan class="h">B</tspan>BEEEEEEEE</text></g>
</g>
</svg>
